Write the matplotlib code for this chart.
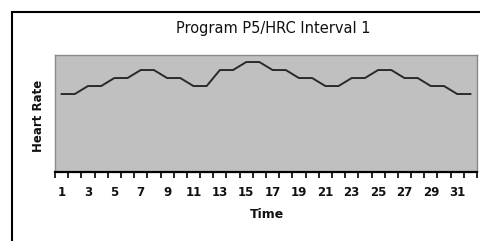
import numpy as np
import matplotlib
matplotlib.use("Agg")
import matplotlib.pyplot as plt
from matplotlib.patches import Rectangle

# Data: heart rate level at each time step (relative levels)
time_labels = [str(t) for t in range(1, 33)]
heart_rate = [130, 130, 135, 135, 140, 140, 145, 145, 140, 140, 135, 135,
              145, 145, 150, 150, 145, 145, 140, 140, 135, 135, 140, 140,
              145, 145, 140, 140, 135, 135, 130, 130]

W, H = 480, 241
fig = plt.figure(figsize=(W / 100, H / 100), dpi=100)
fig.patch.set_facecolor("white")

# outer chart frame (runs off the right and bottom edges)
frame = Rectangle((12 / W, -0.2), 1.2, 1 - 12 / H + 0.2, transform=fig.transFigure,
                  fill=False, edgecolor="black", linewidth=1.5)
fig.patches.append(frame)

left, right, top, bottom = 55, 477, 55, 172
ax = fig.add_axes([left / W, 1 - bottom / H, (right - left) / W, (bottom - top) / H])
ax.set_facecolor("#c0c0c0")

x = np.arange(len(heart_rate))
ax.plot(x, heart_rate, color="#2a2a2a", linewidth=1.4)

ax.set_xlim(-0.5, len(heart_rate) - 0.5)
ax.set_ylim(81.25, 154.4)

# category ticks between points, labels on every other point
ax.set_xticks(x[::2])
ax.set_xticklabels(time_labels[::2], fontsize=8.5, fontweight="bold", color="#111111")
ax.set_xticks(np.arange(-0.5, len(heart_rate)), minor=True)
ax.tick_params(axis="x", which="major", length=0, pad=10)
ax.tick_params(axis="x", which="minor", length=4, width=1.2, color="black")
ax.set_yticks([])

for s in ["left", "top", "right"]:
    ax.spines[s].set_color("#8a8a8a")
    ax.spines[s].set_linewidth(1)
ax.spines["bottom"].set_color("black")
ax.spines["bottom"].set_linewidth(1.6)

fig.text(273 / W, 1 - 29 / H, "Program P5/HRC Interval 1", ha="center", va="center",
         fontsize=10.5, color="#111111")
fig.text(38 / W, 1 - 116 / H, "Heart Rate", ha="center", va="center", rotation=90,
         fontsize=8.5, fontweight="bold", color="#111111")
fig.text(267 / W, 1 - 215 / H, "Time", ha="center", va="center",
         fontsize=9, fontweight="bold", color="#111111")

fig.savefig("out.png", dpi=100)
